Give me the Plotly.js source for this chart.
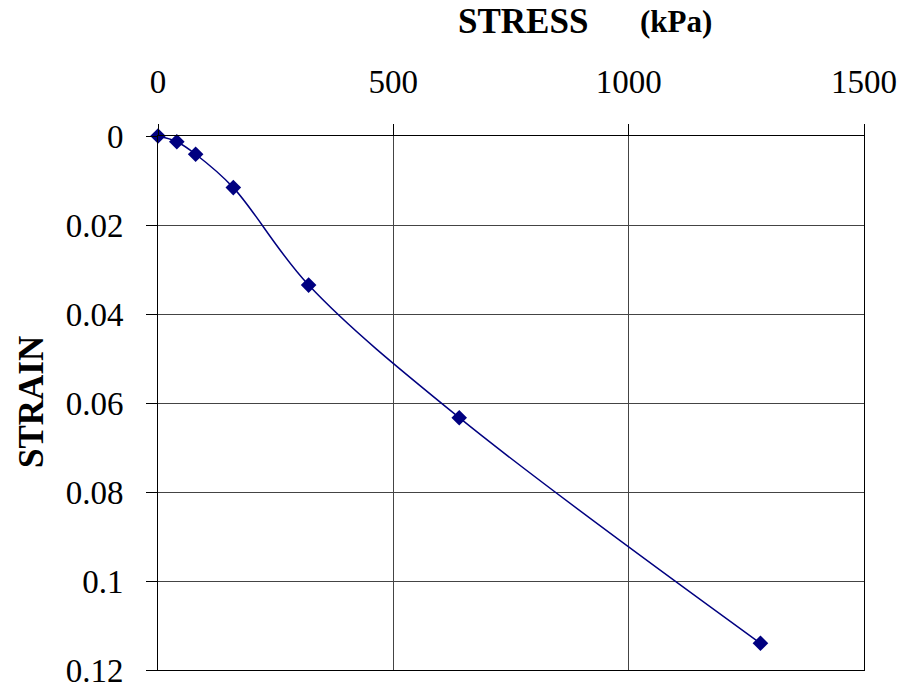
<!DOCTYPE html>
<html>
<head>
<meta charset="utf-8">
<script src="https://cdn.plot.ly/plotly-3.0.1.min.js"></script>
<style>html,body{margin:0;padding:0;background:#fff;}#chart{width:904px;height:692px;}</style>
</head>
<body>
<div id="chart"></div>
<script>
const stress = [0, 40, 80, 160, 320, 640, 1280];
const strain = [0, 0.0013, 0.0041, 0.0116, 0.0335, 0.0633, 0.114];
const xTitle = 'STRESS';
const xUnit = '(kPa)';
const yTitle = 'STRAIN';

const font = 'Liberation Serif, Times New Roman, serif';
const tickFont = {family: font, size: 33, color: '#000'};

function px(x) { return (x - 158) / 706; }
function py(y) { return (670 - y) / 534; }

Plotly.newPlot('chart', [{
  x: stress,
  y: strain,
  type: 'scatter',
  mode: 'lines+markers',
  line: {color: '#000080', width: 1.5, shape: 'spline', smoothing: 1},
  marker: {symbol: 'diamond', size: 12, color: '#000080'},
  cliponaxis: false,
  hoverinfo: 'skip'
}], {
  width: 904, height: 692,
  margin: {l: 158, r: 40, t: 136, b: 22},
  paper_bgcolor: '#fff', plot_bgcolor: '#fff',
  showlegend: false,
  font: {family: font, size: 33, color: '#000'},
  xaxis: {
    side: 'top', range: [0, 1500], dtick: 500, tick0: 0,
    showline: true, linecolor: '#000', linewidth: 1, mirror: true,
    ticks: 'outside', ticklen: 11, tickcolor: '#000', tickwidth: 1,
    ticklabelstandoff: 18,
    showgrid: true, gridcolor: '#444', gridwidth: 1, zeroline: false,
    tickfont: tickFont
  },
  yaxis: {
    range: [0.12, 0], dtick: 0.02, tick0: 0,
    showline: true, linecolor: '#000', linewidth: 1, mirror: true,
    ticks: 'outside', ticklen: 11, tickcolor: '#000', tickwidth: 1,
    ticklabelstandoff: 16,
    showgrid: true, gridcolor: '#444', gridwidth: 1, zeroline: false,
    tickfont: tickFont
  },
  xaxis2: {
    overlaying: 'x', side: 'top', range: [0, 1500], dtick: 500, tick0: 0,
    ticks: 'inside', ticklen: 6, tickcolor: '#000', tickwidth: 1,
    showticklabels: false, showgrid: false, zeroline: false, showline: false
  },
  yaxis2: {
    overlaying: 'y', side: 'left', range: [0.12, 0], dtick: 0.02, tick0: 0,
    ticks: 'inside', ticklen: 6, tickcolor: '#000', tickwidth: 1,
    showticklabels: false, showgrid: false, zeroline: false, showline: false
  },
  annotations: [
    {text: '<b>' + xTitle + '</b>', xref: 'paper', yref: 'paper',
     x: px(522.5), y: py(21), xanchor: 'center', yanchor: 'middle',
     showarrow: false, font: {family: font, size: 35, color: '#000'}},
    {text: '<b>' + xUnit + '</b>', xref: 'paper', yref: 'paper',
     x: px(676), y: py(21), xanchor: 'center', yanchor: 'middle',
     showarrow: false, font: {family: font, size: 31, color: '#000'}},
    {text: '<b>' + yTitle + '</b>', xref: 'paper', yref: 'paper',
     x: px(31), y: py(402), xanchor: 'center', yanchor: 'middle', textangle: -90,
     showarrow: false, font: {family: font, size: 35, color: '#000'}}
  ]
}, {displayModeBar: false, staticPlot: true});
</script>
</body>
</html>
